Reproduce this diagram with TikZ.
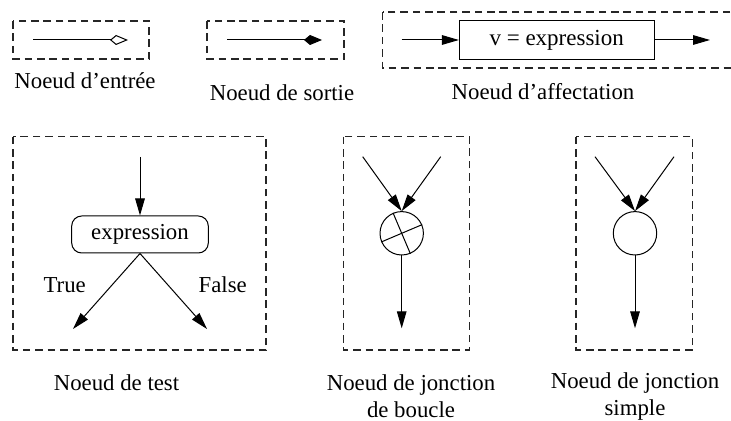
\documentclass[tikz,border=0pt]{standalone}
\usepackage{fontspec}
\setmainfont{Liberation Serif}
\usetikzlibrary{arrows.meta}
\tikzset{
  dbox/.style={draw, dash pattern=on 3.8pt off 2.4pt, line width=0.55pt, black!85},
  arr/.style={draw, line width=0.5pt, -{Triangle[length=8.5pt,width=4.8pt]}},
  arrkite/.style={draw, line width=0.5pt, -{Kite[length=9pt,width=5pt,inset=3pt]}},
  arrkiteo/.style={draw, line width=0.5pt, -{Kite[open,length=9pt,width=5pt,inset=3pt]}},
  lbl/.style={font=\fontsize{11.4}{13.5}\selectfont, inner sep=0pt, align=center},
  jn/.style={circle, draw, line width=0.5pt, minimum size=21.7pt, inner sep=0pt},
}
\begin{document}
\begin{tikzpicture}[x=0.5pt,y=-0.5pt]
\useasboundingbox (0,0) rectangle (731,421);
% top row frames
\draw[dbox] (13,21) rectangle (149,59);
\draw[dbox] (207,21) rectangle (344,59);
\draw[dbox] (382.7,12) rectangle (736,68);
% entree
\coordinate (ea) at (33,40);
\coordinate (eb) at (128,40);
\draw[arrkiteo] (ea) -- (eb);
\node[lbl] (le) at (85,81) {Noeud d’entrée};
% sortie
\coordinate (sa) at (227,40);
\coordinate (sb) at (322,40);
\draw[arrkite] (sa) -- (sb);
\node[lbl] (ls) at (282,93) {Noeud de sortie};
% affectation
\node[draw, line width=0.5pt, minimum width=97.3pt, minimum height=19.3pt, inner sep=0pt, font=\fontsize{11.5}{13.5}\selectfont] (af) at (556.7,40) {v = expression};
\coordinate (aa) at (401.7,40);
\coordinate (ab) at (710,40);
\draw[arr] (aa) -- (af.west);
\draw[arr] (af.east) -- (ab);
\node[lbl] (la) at (543,92) {Noeud d’affectation};
% bottom frames
\draw[dbox] (13,136.7) rectangle (266,350);
\draw[dbox] (343.3,136.7) rectangle (469.3,350);
\draw[dbox] (576,136.7) rectangle (692.7,350);
% test
\node[draw, line width=0.5pt, rounded corners=5pt, minimum width=68.3pt, minimum height=18.5pt, inner sep=0pt, font=\fontsize{11.4}{13.5}\selectfont] (ex) at (140,234.5) {expression};
\coordinate (t0) at (140,157);
\coordinate (tl) at (73,329);
\coordinate (tr) at (207,329);
\draw[arr] (t0) -- (ex.north);
\draw[arr] (ex.south) -- (tl);
\draw[arr] (ex.south) -- (tr);
\node[lbl] (ltrue) at (64.7,285) {True};
\node[lbl] (lfalse) at (222.7,285) {False};
\node[lbl] (lt) at (116.5,383) {Noeud de test};
% jonction de boucle
\node[jn] (c1) at (401.7,233.3) {};
\draw[line width=0.5pt] (c1.113) -- (c1.293);
\draw[line width=0.5pt] (c1.23) -- (c1.203);
\coordinate (b1) at (362.7,156.7);
\coordinate (b2) at (440.7,156.7);
\coordinate (b3) at (401.7,328.3);
\draw[arr] (b1) -- (c1.north);
\draw[arr] (b2) -- (c1.north);
\draw[arr] (c1.south) -- (b3);
\node[lbl] (lb) at (411,396.5) {Noeud de jonction\\de boucle};
% jonction simple
\node[jn] (c2) at (635,233.3) {};
\coordinate (j1) at (595,156.7);
\coordinate (j2) at (674,156.7);
\coordinate (j3) at (635,328.3);
\draw[arr] (j1) -- (c2.north);
\draw[arr] (j2) -- (c2.north);
\draw[arr] (c2.south) -- (j3);
\node[lbl] (lj) at (635,396.5) {Noeud de jonction\\simple};
\end{tikzpicture}
\end{document}
